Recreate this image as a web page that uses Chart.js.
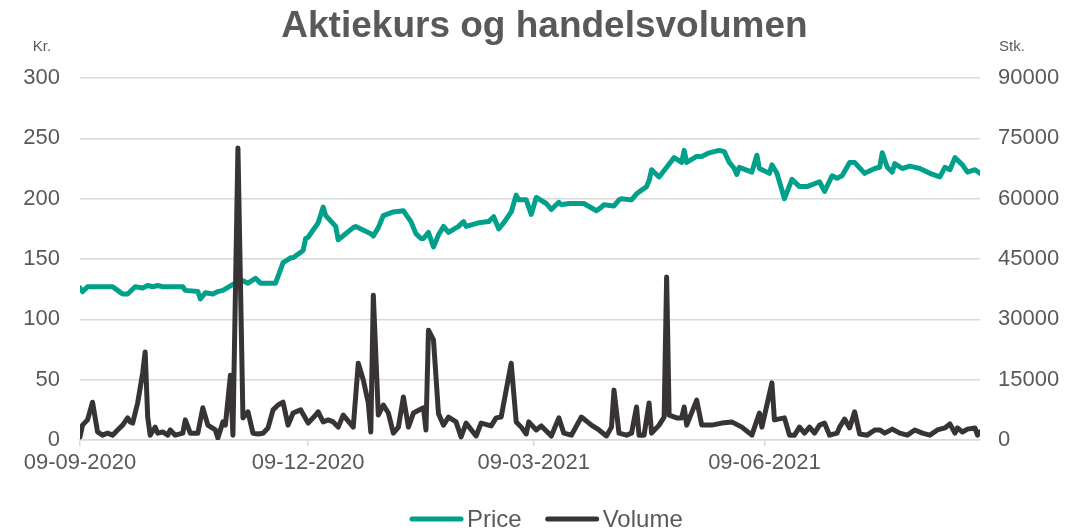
<!DOCTYPE html>
<html>
<head>
<meta charset="utf-8">
<script src="https://cdn.jsdelivr.net/npm/chart.js@4.4.1/dist/chart.umd.min.js"></script>
<style>
  html, body { margin: 0; padding: 0; background: #fff; }
  #wrap { width: 1089px; height: 530px; }
</style>
</head>
<body>
<div id="wrap"><canvas id="chart" width="1089" height="530"></canvas></div>
<script>
// dage efter 09-09-2020
const priceDays = [0, 1, 3, 13, 15, 17, 19, 22, 25, 27, 29, 31, 33, 35, 38, 41, 42, 47, 48, 50,
  53, 55, 57, 61, 63, 65, 67, 70, 72, 76, 78, 81, 84, 85, 89, 90, 91, 93, 95, 97,
  98, 102, 103, 109, 110, 116, 117, 119, 121, 125, 129, 132, 134, 136, 137, 139, 141, 143, 145, 147,
  151, 153, 154, 159, 163, 165, 167, 169, 172, 174, 175, 178, 180, 182, 186, 188, 191, 192, 195, 198,
  201, 206, 208, 209, 213, 215, 216, 220, 222, 226, 227, 228, 231, 234, 237, 240, 241, 242, 246, 248,
  251, 255, 257, 259, 261, 262, 263, 268, 270, 271, 275, 276, 278, 281, 284, 287, 290, 295, 297, 300,
  302, 304, 307, 309, 313, 317, 319, 320, 322, 324, 325, 328, 331, 335, 339, 343, 345, 347, 349, 352,
  354, 357, 359];
const priceValues = [126, 123, 127, 127, 124, 121, 121, 127, 126, 128, 127, 128, 127, 127, 127, 127, 124, 123, 117, 122,
  121, 123, 124, 129, 130, 132, 130, 134, 130, 130, 130, 147, 151, 151, 157, 167, 168, 174, 180, 193,
  186, 177, 166, 176, 177, 171, 169, 176, 186, 189, 190, 181, 171, 167, 167, 172, 160, 170, 177, 172,
  177, 181, 177, 180, 181, 185, 175, 180, 189, 203, 199, 199, 187, 201, 196, 191, 197, 195, 196, 196,
  196, 190, 193, 195, 194, 199, 200, 199, 204, 210, 215, 224, 218, 226, 234, 230, 240, 230, 235, 235,
  238, 240, 239, 230, 225, 220, 226, 222, 236, 225, 221, 228, 221, 200, 216, 210, 210, 214, 206, 219,
  217, 219, 230, 230, 221, 225, 226, 238, 226, 222, 229, 225, 227, 225, 221, 218, 226, 224, 234, 228,
  222, 224, 221, 215];

const volumeDays = [0, 1, 3, 5, 7, 9, 11, 13, 15, 17, 19, 20, 21, 23, 25, 26, 27, 28, 30, 31,
  33, 35, 36, 38, 41, 42, 44, 47, 49, 51, 54, 55, 57, 58, 60, 61, 63, 65, 67, 69,
  71, 73, 75, 77, 79, 81, 83, 85, 88, 91, 94, 95, 97, 99, 101, 103, 105, 109, 111, 113,
  115, 116, 117, 119, 121, 123, 125, 127, 129, 131, 133, 137, 138, 139, 141, 143, 145, 147, 150, 152,
  154, 158, 160, 164, 166, 168, 172, 174, 176, 178, 179, 182, 184, 188, 191, 193, 196, 200, 204, 207,
  210, 212, 213, 215, 218, 220, 222, 223, 225, 227, 228, 231, 233, 234, 235, 238, 240, 241, 242, 246,
  248, 252, 256, 260, 264, 268, 271, 272, 276, 277, 281, 283, 285, 287, 289, 291, 293, 295, 297, 299,
  302, 303, 305, 307, 309, 311, 314, 317, 319, 321, 324, 327, 330, 333, 336, 339, 342, 345, 347, 349,
  350, 352, 354, 357, 358, 359];
const volumeValues = [750, 3700, 5000, 9400, 2000, 1200, 1700, 1200, 2500, 3700, 5500, 4500, 4200, 9200, 16700, 21900, 5700, 1200, 3200, 1700,
  2000, 1200, 2500, 1200, 1700, 5000, 1700, 1700, 8000, 3700, 2500, 500, 4500, 3700, 16100, 1200, 72600, 5500, 7000, 1700,
  1500, 1700, 3000, 7500, 8700, 9400, 3700, 6700, 7500, 4200, 6200, 7000, 4500, 5000, 4500, 3200, 6200, 3200, 19100, 14900,
  9200, 2000, 36000, 6200, 8700, 6700, 1700, 3200, 10700, 3200, 6700, 8000, 2500, 27300, 24900, 6500, 3700, 5700, 4500, 750,
  4200, 1000, 4200, 3500, 5500, 5700, 19100, 4500, 3200, 1500, 4500, 2500, 3500, 1000, 5500, 1700, 1200, 5700, 3700, 2500,
  1000, 3200, 12400, 1700, 1200, 1700, 8200, 1200, 1200, 9200, 1700, 3700, 5700, 40500, 6200, 5500, 5500, 8200, 3700, 9900,
  3700, 3700, 4200, 4500, 3200, 1200, 6700, 3200, 14200, 5000, 5500, 1200, 1200, 3200, 1700, 3200, 1700, 3700, 4200, 1200,
  1700, 3200, 5200, 3000, 7000, 1500, 1200, 2500, 2500, 1700, 2700, 1700, 1200, 2500, 1700, 1200, 2500, 3000, 4000, 1700,
  3000, 2000, 2700, 3000, 1200, 2000];

const tickDays = [0, 91, 181, 273];
const tickLabels = ["09-09-2020", "09-12-2020", "09-03-2021", "09-06-2021"];

const GREEN = "#00a08a";
const DARK = "#383435";
const TEXT = "#595959";
const FONT = "'Liberation Sans', Arial, sans-serif";

// Kr./Stk. og legende tegnes selv
const extras = {
  id: "extras",
  afterDraw(chart) {
    const ctx = chart.ctx;
    ctx.save();
    ctx.fillStyle = TEXT;
    ctx.font = "15px 'Liberation Sans Narrow', 'Liberation Sans', Arial";
    ctx.textAlign = "center";
    ctx.textBaseline = "middle";
    ctx.fillText("Kr.", 42, 47);
    ctx.fillText("Stk.", 1012, 47);

    ctx.font = "24px " + FONT;
    ctx.textAlign = "left";
    const lineLen = 53, gap = 4, itemGap = 24;
    const items = chart.data.datasets.map((ds) => ({ label: ds.label, color: ds.borderColor }));
    let x = 410;
    const y = 519;
    items.forEach((it) => {
      const w = ctx.measureText(it.label).width;
      ctx.strokeStyle = it.color;
      ctx.lineWidth = 5;
      ctx.lineCap = "round";
      ctx.beginPath();
      ctx.moveTo(x + 2, y);
      ctx.lineTo(x + lineLen - 2, y);
      ctx.stroke();
      x += lineLen + gap;
      ctx.fillText(it.label, x, y + 1);
      x += w + itemGap;
    });
    ctx.restore();
  },
};

const ctx = document.getElementById("chart").getContext("2d");
const myChart = new Chart(ctx, {
  type: "line",
  data: {
    datasets: [
      {
        label: "Price",
        data: priceDays.map((d, i) => ({ x: d, y: priceValues[i] })),
        borderColor: GREEN,
        backgroundColor: GREEN,
        borderWidth: 5,
        pointRadius: 0,
        borderJoinStyle: "round",
        borderCapStyle: "round",
        yAxisID: "y",
        order: 1,
      },
      {
        label: "Volume",
        data: volumeDays.map((d, i) => ({ x: d, y: volumeValues[i] })),
        borderColor: DARK,
        backgroundColor: DARK,
        borderWidth: 5,
        pointRadius: 0,
        borderJoinStyle: "round",
        borderCapStyle: "round",
        yAxisID: "y1",
        order: 0,
      },
    ],
  },
  options: {
    responsive: false,
    animation: false,
    layout: { padding: { left: 0, right: 0, top: 0, bottom: 40 } },
    plugins: {
      legend: { display: false },
      tooltip: { enabled: false },
      title: {
        display: true,
        text: "Aktiekurs og handelsvolumen",
        color: TEXT,
        font: { family: FONT, size: 37, weight: "bold" },
        padding: { top: 5, bottom: 28.6 },
      },
    },
    scales: {
      x: {
        type: "linear",
        min: 0,
        max: 359,
        afterBuildTicks: (scale) => {
          scale.ticks = tickDays.map((v) => ({ value: v }));
        },
        afterFit: (scale) => {
          scale.height = 50;
        },
        ticks: {
          autoSkip: false,
          maxRotation: 0,
          padding: 4,
          color: TEXT,
          font: { family: FONT, size: 22 },
          callback: (v, i) => tickLabels[i],
        },
        grid: { drawOnChartArea: false, drawTicks: true, tickLength: 6, color: "#d9d9d9", lineWidth: 1.5 },
        border: { display: true, color: "#d9d9d9", width: 1.5 },
      },
      y: {
        position: "left",
        min: 0,
        max: 300,
        afterFit: (scale) => {
          scale.width = 80;
        },
        ticks: {
          stepSize: 50,
          padding: 20,
          color: TEXT,
          font: { family: FONT, size: 22 },
        },
        grid: { color: "#d9d9d9", lineWidth: 1.5, drawTicks: false },
        border: { display: false },
      },
      y1: {
        position: "right",
        min: 0,
        max: 90000,
        afterFit: (scale) => {
          scale.width = 109;
        },
        ticks: {
          stepSize: 15000,
          padding: 18,
          color: TEXT,
          font: { family: FONT, size: 22 },
          callback: (v) => String(v),
        },
        grid: { drawOnChartArea: false, drawTicks: false },
        border: { display: false },
      },
    },
  },
  plugins: [extras],
});
</script>
</body>
</html>
